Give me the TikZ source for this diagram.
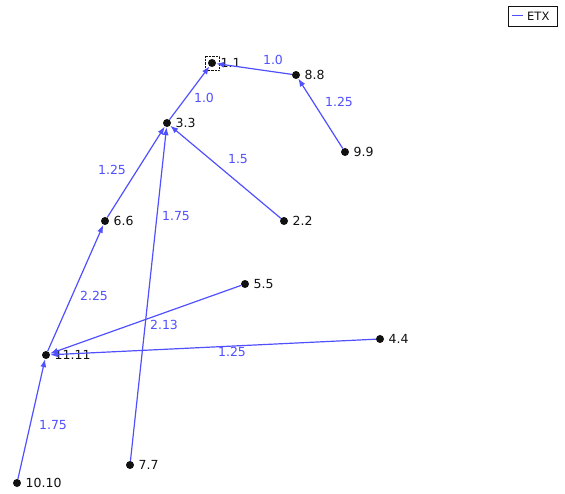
\documentclass[tikz,border=0pt]{standalone}
\usepackage{fontspec}
\setmainfont{DejaVu Sans}
\usetikzlibrary{arrows.meta}
\definecolor{ink}{HTML}{111111}
\definecolor{etx}{HTML}{5050FF}

\begin{document}
\begin{tikzpicture}[x=1pt,y=-1pt,font=\fontsize{12.5}{14}\selectfont,>={Latex[length=8pt,width=6pt]},
  pt/.style={circle,fill=ink,inner sep=0pt,minimum size=8pt},
  lbl/.style={text=ink,anchor=west,inner sep=0pt,xshift=8.5pt},
  link/.style={->,etx,line width=1.2pt},
  cost/.style={text=etx}]
  \useasboundingbox (0,0) rectangle (565,494);
  % routers
  \node[pt] (n1) at (212,63) {};   \node[lbl] at (n1.center) {1.1};
  \node[pt] (n8) at (296,75) {};   \node[lbl] at (n8.center) {8.8};
  \node[pt] (n9) at (345,152) {};  \node[lbl] at (n9.center) {9.9};
  \node[pt] (n3) at (167,123) {};  \node[lbl] at (n3.center) {3.3};
  \node[pt] (n2) at (284,221) {};  \node[lbl] at (n2.center) {2.2};
  \node[pt] (n6) at (105,221) {};  \node[lbl] at (n6.center) {6.6};
  \node[pt] (n5) at (245,284) {};  \node[lbl] at (n5.center) {5.5};
  \node[pt] (n4) at (380,339) {};  \node[lbl] at (n4.center) {4.4};
  \node[pt] (n11) at (46,355) {};  \node[lbl] at (n11.center) {11.11};
  \node[pt] (n10) at (17,483) {};  \node[lbl] at (n10.center) {10.10};
  \node[pt] (n7) at (130,465) {};  \node[lbl] at (n7.center) {7.7};
  \draw[densely dotted,ink] (205,56) rectangle (219,70);
  % links
  \draw[link] (n8) -- (n1);
  \draw[link] (n9) -- (n8);
  \draw[link] (n3) -- (n1);
  \draw[link] (n2) -- (n3);
  \draw[link] (n6) -- (n3);
  \draw[link] (n7) -- (n3);
  \draw[link] (n11) -- (n6);
  \draw[link] (n5) -- (n11);
  \draw[link] (n4) -- (n11);
  \draw[link] (n10) -- (n11);
  % costs
  \node[cost] at (273,60) {1.0};
  \node[cost] at (339,102) {1.25};
  \node[cost] at (204,98) {1.0};
  \node[cost] at (238,159) {1.5};
  \node[cost] at (112,170) {1.25};
  \node[cost] at (176,216) {1.75};
  \node[cost] at (94,296) {2.25};
  \node[cost] at (164,325) {2.13};
  \node[cost] at (232,352) {1.25};
  \node[cost] at (53,425) {1.75};
  % legend
  \draw[ink,fill=white] (508,6) rectangle (557,26);
  \draw[etx,line width=1pt] (512,16) -- (523,16);
  \node[text=ink,anchor=west,inner sep=0pt,font=\fontsize{11.5}{13}\selectfont] at (527,16) {ETX};
\end{tikzpicture}
\end{document}
